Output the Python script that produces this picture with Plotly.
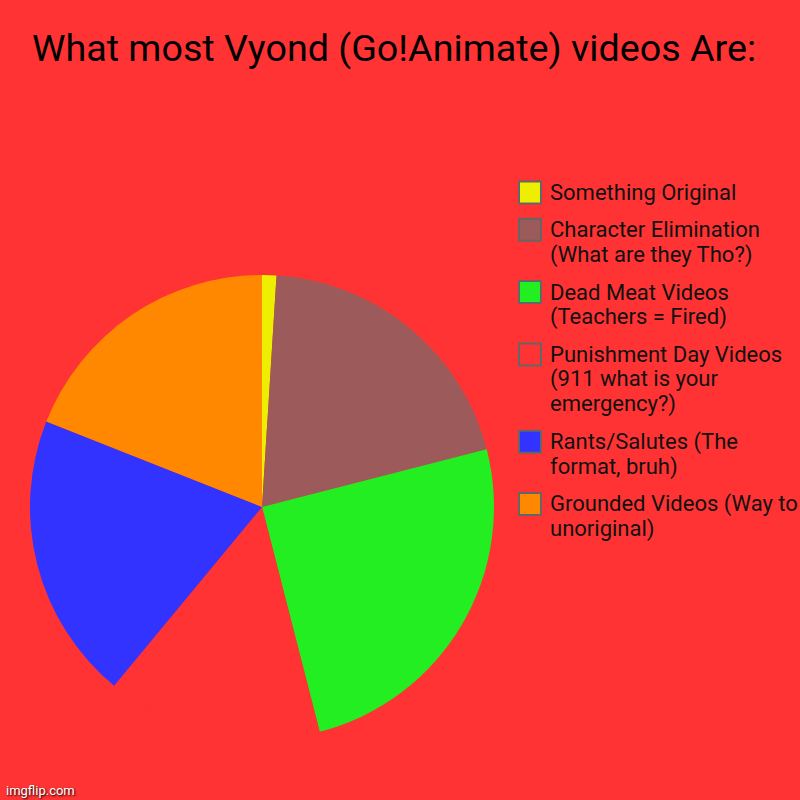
import plotly.graph_objects as go

# slice data, clockwise from 12 o'clock
labels = [
    "Something Original",
    "Character Elimination (What are they Tho?)",
    "Dead Meat Videos (Teachers = Fired)",
    "Punishment Day Videos (911 what is your emergency?)",
    "Rants/Salutes (The format, bruh)",
    "Grounded Videos (Way to unoriginal)",
]
legend_lines = [
    ["Something Original"],
    ["Character Elimination", "(What are they Tho?)"],
    ["Dead Meat Videos", "(Teachers = Fired)"],
    ["Punishment Day Videos", "(911 what is your", "emergency?)"],
    ["Rants/Salutes (The", "format, bruh)"],
    ["Grounded Videos (Way to", "unoriginal)"],
]
values = [1, 20, 25, 15, 20, 19]
colors = ["#EEEE00", "#9C5A5A", "#22EE22", "#FF3333", "#3333FF", "#FF8800"]

BG = "#FF3333"
W, H = 800, 800

fig = go.Figure()
fig.add_trace(go.Pie(
    labels=labels,
    values=values,
    sort=False,
    direction="clockwise",
    rotation=0,
    textinfo="none",
    hoverinfo="label+percent",
    marker=dict(colors=colors, line=dict(width=0)),
    domain=dict(x=[30 / W, 494 / W], y=[1 - 739 / H, 1 - 275 / H]),
    showlegend=False,
))

# hand-built legend so the swatches and text match imgflip sizes
shapes = []
annotations = []
cy = 192.5
LINE = 25
for lines, col in zip(legend_lines, colors):
    shapes.append(dict(
        type="rect", xref="paper", yref="paper",
        x0=519 / W, x1=541 / W, y0=1 - (cy + 11) / H, y1=1 - (cy - 11) / H,
        fillcolor=col, line=dict(color="#666666", width=2),
    ))
    for i, ln in enumerate(lines):
        annotations.append(dict(
            text=ln, xref="paper", yref="paper",
            x=548 / W, y=1 - (cy + i * LINE) / H, xanchor="left", yanchor="middle",
            align="left", showarrow=False,
            font=dict(family="Roboto", size=22, color="#111111"),
        ))
    cy += LINE * len(lines) + 12.3

annotations.append(dict(
    text="What most Vyond (Go!Animate) videos Are:",
    xref="paper", yref="paper", x=30 / W, y=1 - 48 / H,
    xanchor="left", yanchor="middle", showarrow=False,
    font=dict(family="Roboto", size=37.7, color="#000000"),
))
annotations.append(dict(
    text="imgflip.com",
    xref="paper", yref="paper", x=4 / W, y=1 - 790 / H,
    xanchor="left", yanchor="middle", showarrow=False,
    font=dict(family="Roboto", size=13, color="#FFFFFF",
              shadow="1px 1px 2px #000000"),
))

fig.update_layout(
    width=W,
    height=H,
    margin=dict(l=0, r=0, t=0, b=0),
    paper_bgcolor=BG,
    plot_bgcolor=BG,
    shapes=shapes,
    annotations=annotations,
)

fig.write_html("out.html", config={"displayModeBar": False},
               post_script="document.body.style.margin='0';")
